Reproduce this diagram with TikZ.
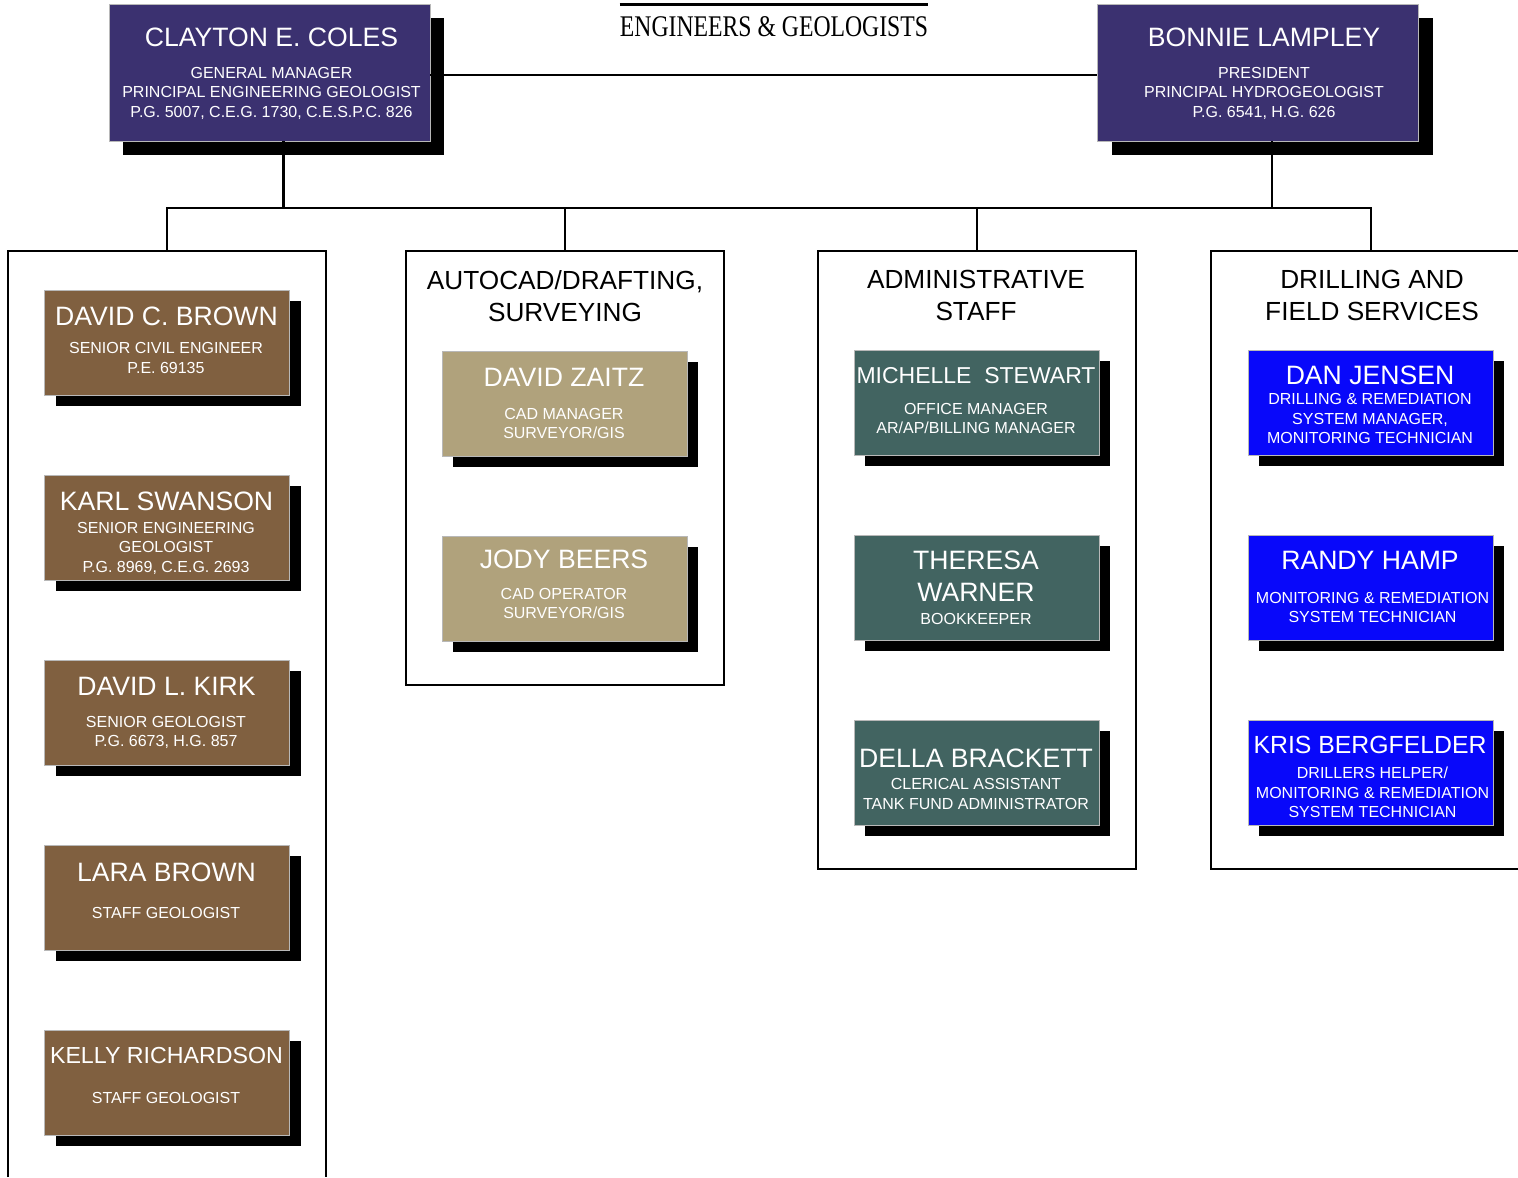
\documentclass[tikz,border=0pt]{standalone}
\usepackage{fontspec}
\setmainfont{Liberation Sans}
\newfontfamily\titlefont{Liberation Serif}
\usetikzlibrary{shadows}
\definecolor{headpurple}{RGB}{59,49,112}
\definecolor{staffbrown}{RGB}{128,96,64}
\definecolor{cadtan}{RGB}{176,162,124}
\definecolor{adminteal}{RGB}{66,100,97}
\definecolor{fieldblue}{RGB}{8,8,250}

\begin{document}
\begin{tikzpicture}[x=0.5pt,y=-0.5pt,
  link/.style={line width=1.2pt},
  grp/.style={line width=1.2pt},
  base/.style={draw=black!28, line width=0.35pt, inner sep=0pt},
  head/.style={base, fill=headpurple, minimum width=160.5pt, minimum height=68.5pt,
    drop shadow={shadow xshift=7pt, shadow yshift=-7pt, fill=black, opacity=1}},
  card/.style={base, minimum width=122.5pt, minimum height=52.5pt,
    drop shadow={shadow xshift=5.5pt, shadow yshift=-5.5pt, fill=black, opacity=1}},
  nm/.style={text=white, inner sep=0pt, align=center, font=\fontsize{13.3}{16}\selectfont},
  sub/.style={text=white, inner sep=0pt, align=center, font=\fontsize{8}{9.75}\selectfont},
  gtitle/.style={inner sep=0pt, align=center, font=\fontsize{13.1}{16}\selectfont}]
\useasboundingbox (0,0) rectangle (1518,1177);

% title
\node[inner sep=0pt] (title) at (774,27) {\titlefont\fontsize{15}{18}\selectfont\scalebox{0.79}[1]{ENGINEERS \& GEOLOGISTS}};
\draw[line width=1.3pt] ([yshift=6pt]title.north west) -- ([yshift=6pt]title.north east);

% heads
\node[head] (coles) at (269.5,72.5) {};
\node[nm] (colesN) at (271.5,37) {CLAYTON E. COLES};
\node[sub] (colesS) at (271.5,93) {GENERAL MANAGER\\PRINCIPAL ENGINEERING GEOLOGIST\\P.G. 5007, C.E.G. 1730, C.E.S.P.C. 826};
\node[head] (lampley) at (1258,72.5) {};
\node[nm] (lampleyN) at (1264,37) {BONNIE LAMPLEY};
\node[sub] (lampleyS) at (1264,93) {PRESIDENT\\PRINCIPAL HYDROGEOLOGIST\\P.G. 6541, H.G. 626};
\draw[link] ([yshift=-1.25pt]coles.east) -- ([yshift=-1.25pt]lampley.west);

% bus
\coordinate (bus) at (0,208);
\coordinate (grp1) at (167,251);
\coordinate (grp2) at (565,251);
\coordinate (grp3) at (977,251);
\coordinate (grp4) at (1371,251);
\draw[link] ([xshift=7pt]coles.south) -- ([xshift=7pt]coles.south |- bus);
\draw[link] ([xshift=7pt]lampley.south) -- ([xshift=7pt]lampley.south |- bus);
\draw[link] (grp1) -- (grp1 |- bus) -- (grp4 |- bus) -- (grp4);
\draw[link] (grp2) -- (grp2 |- bus);
\draw[link] (grp3) -- (grp3 |- bus);

% group frames
\draw[grp] (8,1177) -- (8,251) -- (326,251) -- (326,1177);
\draw[grp] (406,251) rectangle (724,685);
\draw[grp] (818,251) rectangle (1136,869);
\draw[grp] (1518,251) -- (1211,251) -- (1211,869) -- (1518,869);
\node[gtitle] (cadT) at (565,296) {AUTOCAD/DRAFTING,\\SURVEYING};
\node[gtitle] (adminT) at (976,295) {ADMINISTRATIVE\\STAFF};
\node[gtitle] (fieldT) at (1372,295) {DRILLING AND\\FIELD SERVICES};

% engineers and geologists
\node[card, fill=staffbrown] (dbrown) at (167,342.5) {};
\node[nm] (dbrownN) at (166.5,316) {DAVID C. BROWN};
\node[sub] (dbrownS) at (166,358) {SENIOR CIVIL ENGINEER\\P.E. 69135};
\node[card, fill=staffbrown] (swanson) at (167,527.5) {};
\node[nm] (swansonN) at (166.5,501) {KARL SWANSON};
\node[sub] (swansonS) at (166,548) {SENIOR ENGINEERING\\GEOLOGIST\\P.G. 8969, C.E.G. 2693};
\node[card, fill=staffbrown] (kirk) at (167,712.5) {};
\node[nm] (kirkN) at (166.5,686) {DAVID L. KIRK};
\node[sub] (kirkS) at (166,732.5) {SENIOR GEOLOGIST\\P.G. 6673, H.G. 857};
\node[card, fill=staffbrown] (lbrown) at (167,897.5) {};
\node[nm] (lbrownN) at (166.5,872) {LARA BROWN};
\node[sub] (lbrownS) at (166,913) {STAFF GEOLOGIST};
\node[card, fill=staffbrown] (richardson) at (167,1082.5) {};
\node[nm, font=\fontsize{11.6}{14}\selectfont] (richardsonN) at (166.5,1055) {KELLY RICHARDSON};
\node[sub] (richardsonS) at (166,1098) {STAFF GEOLOGIST};

% autocad
\node[card, fill=cadtan] (zaitz) at (564.5,403.5) {};
\node[nm] (zaitzN) at (564,377) {DAVID ZAITZ};
\node[sub] (zaitzS) at (564,423.5) {CAD MANAGER\\SURVEYOR/GIS};
\node[card, fill=cadtan] (beers) at (564.5,588.5) {};
\node[nm] (beersN) at (564,559) {JODY BEERS};
\node[sub] (beersS) at (564,603.5) {CAD OPERATOR\\SURVEYOR/GIS};

% administrative
\node[card, fill=adminteal] (stewart) at (976.5,402.5) {};
\node[nm, font=\fontsize{11.5}{14}\selectfont] (stewartN) at (976,376) {MICHELLE\ \ STEWART};
\node[sub] (stewartS) at (976,418.5) {OFFICE MANAGER\\AR/AP/BILLING MANAGER};
\node[card, fill=adminteal] (warner) at (976.5,587.5) {};
\node[nm] (warnerN) at (976,576) {THERESA\\WARNER};
\node[sub] (warnerS) at (976,619) {BOOKKEEPER};
\node[card, fill=adminteal] (brackett) at (976.5,772.5) {};
\node[nm] (brackettN) at (976,758) {DELLA BRACKETT};
\node[sub] (brackettS) at (976,794) {CLERICAL ASSISTANT\\TANK FUND ADMINISTRATOR};

% drilling and field
\node[card, fill=fieldblue] (jensen) at (1370.5,402.5) {};
\node[nm] (jensenN) at (1370,375) {DAN JENSEN};
\node[sub] (jensenS) at (1370,418.5) {DRILLING \& REMEDIATION\\SYSTEM MANAGER,\\MONITORING TECHNICIAN};
\node[card, fill=fieldblue] (hamp) at (1370.5,587.5) {};
\node[nm] (hampN) at (1370,560) {RANDY HAMP};
\node[sub] (hampS) at (1372.5,607.5) {MONITORING \& REMEDIATION\\SYSTEM TECHNICIAN};
\node[card, fill=fieldblue] (bergfelder) at (1370.5,772.5) {};
\node[nm, font=\fontsize{12.4}{15}\selectfont] (bergfelderN) at (1370,745) {KRIS BERGFELDER};
\node[sub] (bergfelderS) at (1372.5,792.5) {DRILLERS HELPER/\\MONITORING \& REMEDIATION\\SYSTEM TECHNICIAN};
\end{tikzpicture}
\end{document}
